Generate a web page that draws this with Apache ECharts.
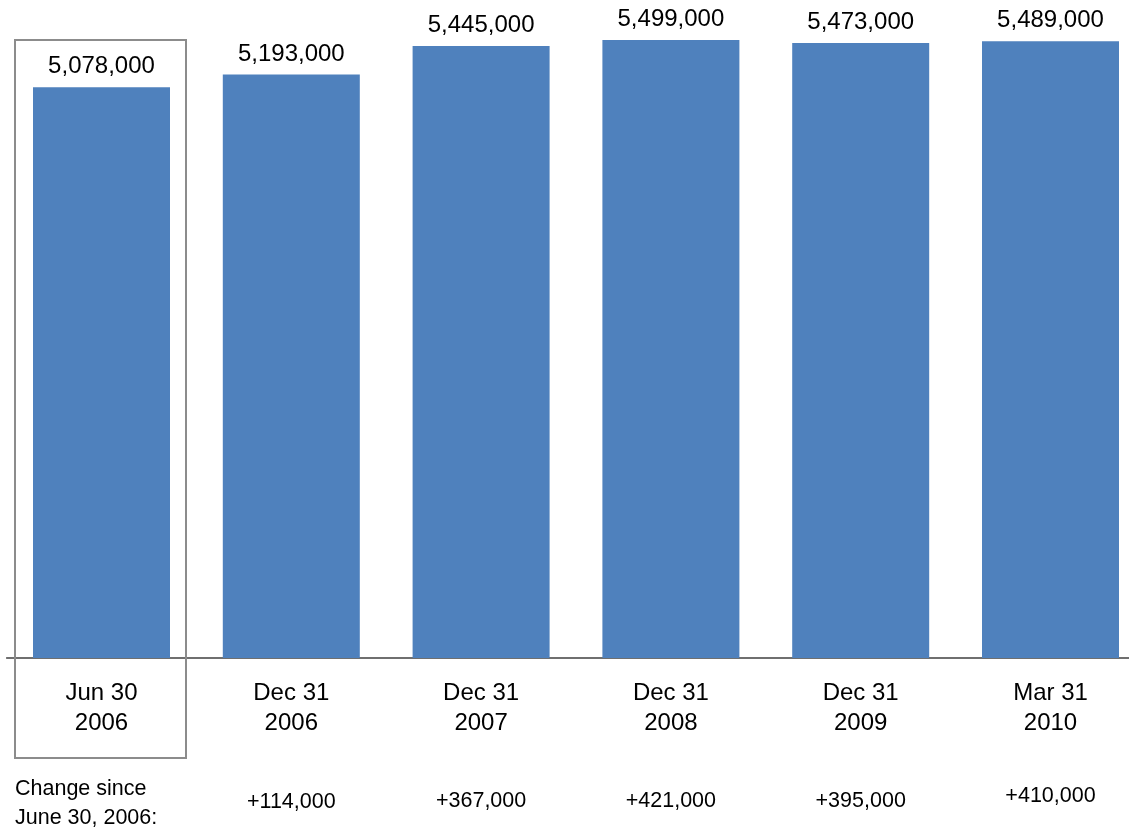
<!DOCTYPE html>
<html>
<head>
<meta charset="utf-8">
<script src="https://cdn.jsdelivr.net/npm/echarts@6/dist/echarts.min.js"></script>
<style>
  html, body { margin: 0; padding: 0; background: #fff; }
  #chart { width: 1129px; height: 829px; }
</style>
</head>
<body>
<div id="chart"></div>
<script>
// Population counts at each reporting date
const categories = ['Jun 30\n2006', 'Dec 31\n2006', 'Dec 31\n2007', 'Dec 31\n2008', 'Dec 31\n2009', 'Mar 31\n2010'];
const values = [5078000, 5193000, 5445000, 5499000, 5473000, 5489000];
const changes = ['', '+114,000', '+367,000', '+421,000', '+395,000', '+410,000'];
const changeTitle = 'Change since\nJune 30, 2006:';

const FONT = '"Liberation Sans", Arial, sans-serif';
const fmt = v => v.toLocaleString('en-US');

const chart = echarts.init(document.getElementById('chart'), null, { renderer: 'canvas' });

chart.setOption({
  animation: false,
  backgroundColor: '#ffffff',
  grid: {
    left: 6.6, width: 1138.8, top: 0, bottom: 171,
    containLabel: false, outerBoundsMode: 'none'
  },
  xAxis: {
    type: 'category',
    data: categories,
    axisLine: { show: true, lineStyle: { color: '#404040', width: 1.5 } },
    axisTick: { show: false },
    axisLabel: {
      color: '#000', fontFamily: FONT, fontSize: 24, lineHeight: 30,
      margin: 20.5, interval: 0
    }
  },
  yAxis: {
    type: 'value', min: 0, max: 5855000,
    show: false, splitLine: { show: false }
  },
  series: [{
    type: 'bar',
    data: values,
    barWidth: 137,
    itemStyle: { color: '#4F81BD' },
    label: {
      show: true, position: 'top', distance: 8.5,
      color: '#000', fontFamily: FONT, fontSize: 24,
      formatter: p => fmt(p.value)
    }
  }]
});

// Change row under the axis and the frame around the base period
const rowY = [801, 802, 801, 801, 801, 796.5];
const graphics = [];
categories.forEach((c, i) => {
  if (!changes[i]) return;
  const x = chart.convertToPixel({ xAxisIndex: 0 }, i);
  graphics.push({
    type: 'text', x: x, y: rowY[i],
    style: {
      text: changes[i], fill: '#000', fontFamily: FONT, fontSize: 21.5,
      textAlign: 'center', textVerticalAlign: 'middle'
    }
  });
});
graphics.push({
  type: 'text', x: 15, y: 774,
  style: { text: changeTitle, fill: '#000', fontFamily: FONT, fontSize: 21.5, lineHeight: 29.5 }
});
const cx0 = chart.convertToPixel({ xAxisIndex: 0 }, 0);
graphics.push({
  type: 'rect',
  shape: { x: cx0 - 86.5, y: 40, width: 171, height: 718 },
  style: { fill: 'none', stroke: '#8c8c8c', lineWidth: 2 },
  z: 10
});
chart.setOption({ graphic: graphics });
</script>
</body>
</html>
